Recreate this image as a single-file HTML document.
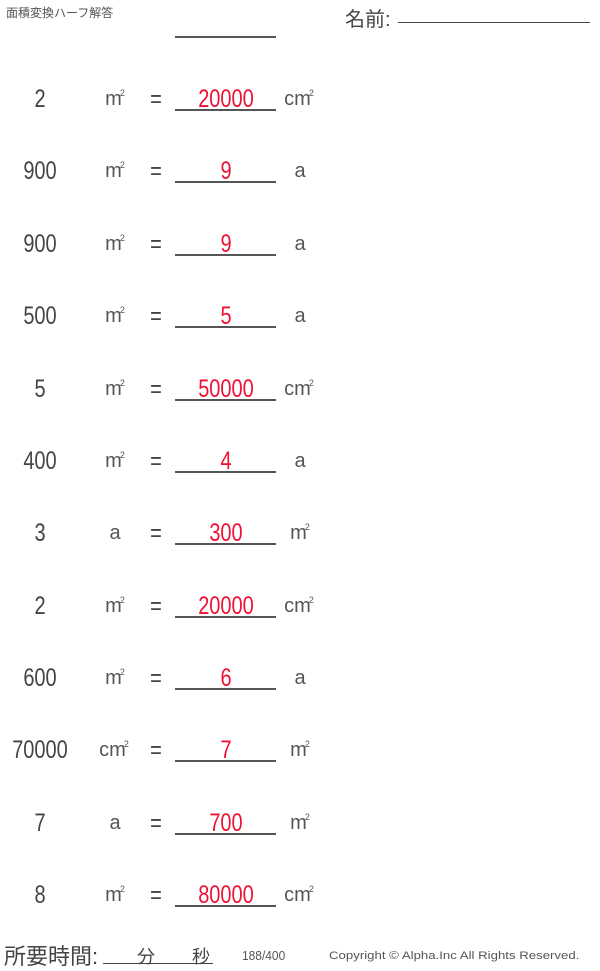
<!DOCTYPE html>
<html><head><meta charset="utf-8"><style>
body{margin:0;width:600px;height:967px;background:#fff;position:relative;overflow:hidden;font-family:"Liberation Sans","Noto Sans CJK JP",sans-serif;color:#444}
.a{position:absolute;white-space:nowrap}
.t{font-size:25px;line-height:25px;transform:scaleX(.8);text-align:center;width:120px;margin-left:-60px;color:#444}
.u{font-size:20px;line-height:20px;width:60px;margin-left:-30px;text-align:center;color:#555}
.u sup{font-size:9px;vertical-align:0;position:relative;top:-9px;margin-left:-2px}
.r{color:#ee1133}
.ln{position:absolute;height:2px;background:#555;left:175px;width:101px}
</style></head><body>
<div class="a" style="left:6px;top:4px;font-size:12px;color:#555">面積変換ハーフ解答</div>
<div class="a" style="left:345px;top:3px;font-size:20px;color:#444">名前:</div>
<div class="a" style="left:398px;top:22px;width:192px;height:1px;background:#444"></div>
<div class="ln" style="top:36px"></div>

<div class="a t" style="left:40px;top:87px">2</div><div class="a u" style="left:115px;top:89px">m<sup>2</sup></div><div class="a t" style="left:156px;top:87px">=</div><div class="a t r" style="left:226px;top:87px">20000</div><div class="ln" style="top:109px"></div><div class="a u" style="left:299px;top:89px">cm<sup>2</sup></div>
<div class="a t" style="left:40px;top:159px">900</div><div class="a u" style="left:115px;top:161px">m<sup>2</sup></div><div class="a t" style="left:156px;top:159px">=</div><div class="a t r" style="left:226px;top:159px">9</div><div class="ln" style="top:181px"></div><div class="a u" style="left:300px;top:161px">a</div>
<div class="a t" style="left:40px;top:232px">900</div><div class="a u" style="left:115px;top:234px">m<sup>2</sup></div><div class="a t" style="left:156px;top:232px">=</div><div class="a t r" style="left:226px;top:232px">9</div><div class="ln" style="top:254px"></div><div class="a u" style="left:300px;top:234px">a</div>
<div class="a t" style="left:40px;top:304px">500</div><div class="a u" style="left:115px;top:306px">m<sup>2</sup></div><div class="a t" style="left:156px;top:304px">=</div><div class="a t r" style="left:226px;top:304px">5</div><div class="ln" style="top:326px"></div><div class="a u" style="left:300px;top:306px">a</div>
<div class="a t" style="left:40px;top:377px">5</div><div class="a u" style="left:115px;top:379px">m<sup>2</sup></div><div class="a t" style="left:156px;top:377px">=</div><div class="a t r" style="left:226px;top:377px">50000</div><div class="ln" style="top:399px"></div><div class="a u" style="left:299px;top:379px">cm<sup>2</sup></div>
<div class="a t" style="left:40px;top:449px">400</div><div class="a u" style="left:115px;top:451px">m<sup>2</sup></div><div class="a t" style="left:156px;top:449px">=</div><div class="a t r" style="left:226px;top:449px">4</div><div class="ln" style="top:471px"></div><div class="a u" style="left:300px;top:451px">a</div>
<div class="a t" style="left:40px;top:521px">3</div><div class="a u" style="left:115px;top:523px">a</div><div class="a t" style="left:156px;top:521px">=</div><div class="a t r" style="left:226px;top:521px">300</div><div class="ln" style="top:543px"></div><div class="a u" style="left:300px;top:523px">m<sup>2</sup></div>
<div class="a t" style="left:40px;top:594px">2</div><div class="a u" style="left:115px;top:596px">m<sup>2</sup></div><div class="a t" style="left:156px;top:594px">=</div><div class="a t r" style="left:226px;top:594px">20000</div><div class="ln" style="top:616px"></div><div class="a u" style="left:299px;top:596px">cm<sup>2</sup></div>
<div class="a t" style="left:40px;top:666px">600</div><div class="a u" style="left:115px;top:668px">m<sup>2</sup></div><div class="a t" style="left:156px;top:666px">=</div><div class="a t r" style="left:226px;top:666px">6</div><div class="ln" style="top:688px"></div><div class="a u" style="left:300px;top:668px">a</div>
<div class="a t" style="left:40px;top:738px">70000</div><div class="a u" style="left:114px;top:740px">cm<sup>2</sup></div><div class="a t" style="left:156px;top:738px">=</div><div class="a t r" style="left:226px;top:738px">7</div><div class="ln" style="top:760px"></div><div class="a u" style="left:300px;top:740px">m<sup>2</sup></div>
<div class="a t" style="left:40px;top:811px">7</div><div class="a u" style="left:115px;top:813px">a</div><div class="a t" style="left:156px;top:811px">=</div><div class="a t r" style="left:226px;top:811px">700</div><div class="ln" style="top:833px"></div><div class="a u" style="left:300px;top:813px">m<sup>2</sup></div>
<div class="a t" style="left:40px;top:883px">8</div><div class="a u" style="left:115px;top:885px">m<sup>2</sup></div><div class="a t" style="left:156px;top:883px">=</div><div class="a t r" style="left:226px;top:883px">80000</div><div class="ln" style="top:905px"></div><div class="a u" style="left:299px;top:885px">cm<sup>2</sup></div>

<div class="a" style="left:4px;top:939px;font-size:22px;color:#444">所要時間:</div>
<div class="a" style="left:103px;top:963px;width:110px;height:1px;background:#444"></div>
<div class="a" style="left:137px;top:943px;font-size:18px;color:#444">分</div>
<div class="a" style="left:192px;top:943px;font-size:18px;color:#444">秒</div>
<div class="a" style="left:242px;top:948px;font-size:13px;color:#555;transform:scaleX(.92);transform-origin:left">188/400</div>
<div class="a" style="left:329px;top:950px;font-size:11px;color:#555;transform:scaleX(1.2);transform-origin:left">Copyright © Alpha.Inc All Rights Reserved.</div>
</body></html>
